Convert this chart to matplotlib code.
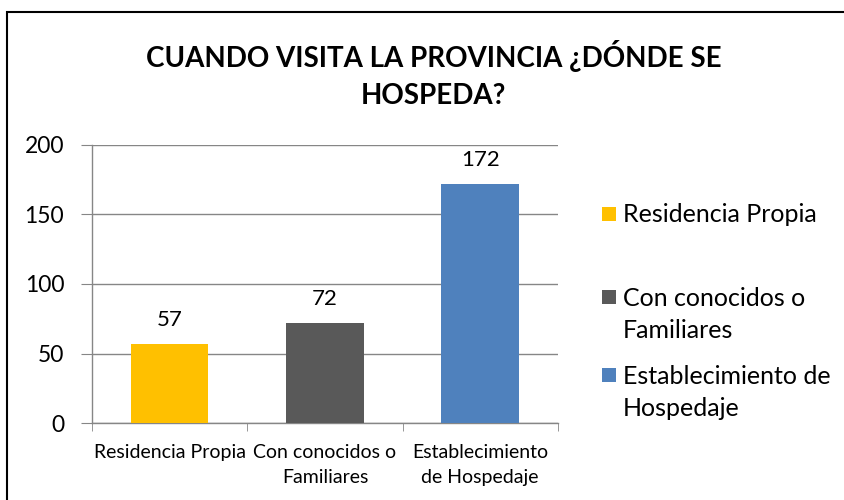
# coding=utf-8
"""
Gráfico de barras: dónde se hospeda al visitar la provincia
"""

import matplotlib
matplotlib.use("Agg")
import matplotlib.pyplot as plt
from matplotlib.patches import Rectangle

# Datos
categorias = ["Residencia Propia", "Con conocidos o\nFamiliares",
              "Establecimiento\nde Hospedaje"]
leyenda = ["Residencia Propia", "Con conocidos o\nFamiliares",
           "Establecimiento de\nHospedaje"]
valores = [57, 72, 172]
colores = ["#FFC000", "#595959", "#4F81BD"]
y_ticks = [0, 50, 100, 150, 200]

plt.rcParams['font.family'] = ['Lato', 'DejaVu Sans']

fig = plt.figure(figsize=(8.44, 5.0), dpi=100)
ax = fig.add_axes([0.109, 0.154, 0.552, 0.556])

x = list(range(len(valores)))
ax.bar(x, valores, width=0.5, color=colores, zorder=3)

# Etiquetas de datos
for xi, v in zip(x, valores):
    ax.text(xi, v + 10, str(v), ha='center', va='bottom', fontsize=16)

ax.set_xlim(-0.5, 2.5)
ax.set_ylim(0, 200)
ax.set_yticks(y_ticks)
ax.tick_params(axis='y', labelsize=16.5, length=8, color='#868686', pad=12)
ax.set_xticks(x)
ax.set_xticklabels(categorias, fontsize=14, linespacing=1.6)
ax.set_xticks([-0.5, 0.5, 1.5, 2.5], minor=True)
ax.tick_params(axis='x', which='major', length=0, pad=15)
ax.tick_params(axis='x', which='minor', length=6, color='#868686')

ax.grid(axis='y', color='#868686', linewidth=1, zorder=0)
for lado in ['top', 'right']:
    ax.spines[lado].set_visible(False)
for lado in ['left', 'bottom']:
    ax.spines[lado].set_color('#868686')
    ax.spines[lado].set_linewidth(1)

# Título
fig.text(0.514, 0.888, "CUANDO VISITA LA PROVINCIA ¿DÓNDE SE", ha='center',
         va='center', fontsize=20, fontweight='bold')
fig.text(0.514, 0.808, "HOSPEDA?", ha='center', va='center', fontsize=20,
         fontweight='bold')

# Leyenda (cuadro de color alineado con la primera línea)
leyenda_y = [0.572, 0.406, 0.25]
for etiqueta, c, yy in zip(leyenda, colores, leyenda_y):
    fig.patches.append(Rectangle((0.713, yy - 0.014), 0.0166, 0.028,
                                 facecolor=c, edgecolor='none',
                                 transform=fig.transFigure, figure=fig))
    fig.text(0.738, yy + 0.021, etiqueta, ha='left', va='top', fontsize=18,
             linespacing=1.52)

# Borde del gráfico
fig.patches.append(Rectangle((0.008, -0.01), 1.5, 0.986, fill=False,
                             edgecolor='black', linewidth=1.5,
                             transform=fig.transFigure, figure=fig))

fig.savefig("out.png", dpi=100)
